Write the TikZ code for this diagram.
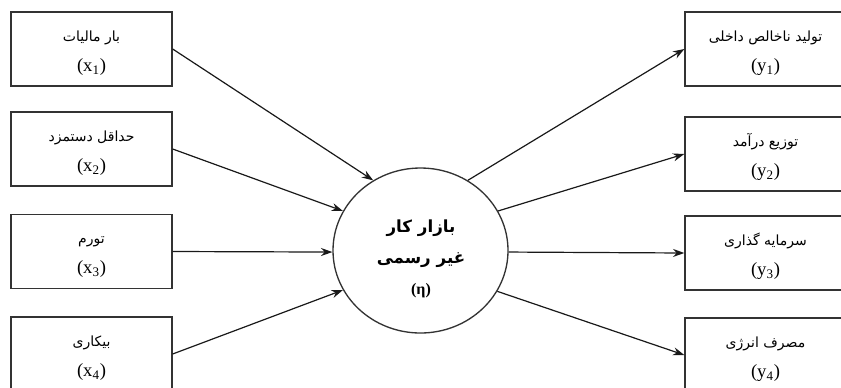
\documentclass[tikz,border=0pt]{standalone}
\usepackage{fontspec}
\setmainfont{Liberation Serif}
\newfontfamily\fa[Script=Arabic]{DejaVu Sans}
\TeXXeTstate=1
\usetikzlibrary{shapes.geometric,arrows.meta}
\newcommand{\fat}[1]{\rule{0pt}{14pt}{\fa\fontsize{10.5}{12}\selectfont\beginR #1\endR}}
\newcommand{\fatb}[1]{{\fa\bfseries\fontsize{12.5}{12}\selectfont\beginR #1\endR}}
\newcommand{\lab}[2]{{\fontsize{14}{14}\selectfont(#1\textsubscript{#2})}}
\begin{document}
\begin{tikzpicture}[x=0.75pt,y=-0.75pt,
  box/.style={draw=black!80, line width=1pt, minimum width=120.75pt, minimum height=55.5pt,
    inner sep=0pt, align=center, font=\fontsize{12}{22.5}\selectfont},
  conn/.style={draw=black!90, line width=0.9pt, -{Stealth[length=8.5pt,width=6pt]}}]
\clip (0,0) rectangle (841,387);
\useasboundingbox (0,0) rectangle (841,387);
\fill[white] (0,0) rectangle (841,387);

\node[box] (x1) at (91.5,49)   {\fat{بار مالیات}\\\lab{x}{1}};
\node[box] (x2) at (91.5,149)  {\fat{حداقل دستمزد}\\\lab{x}{2}};
\node[box] (x3) at (91.5,251.5){\fat{تورم}\\\lab{x}{3}};
\node[box] (x4) at (91.5,354)  {\fat{بیکاری}\\\lab{x}{4}};

\node[box] (y1) at (765.5,49)  {\fat{تولید ناخالص داخلی}\\\lab{y}{1}};
\node[box] (y2) at (765.5,154) {\fat{توزیع درآمد}\\\lab{y}{2}};
\node[box] (y3) at (765.5,253) {\fat{سرمایه گذاری}\\\lab{y}{3}};
\node[box] (y4) at (765.5,355) {\fat{مصرف انرژی}\\\lab{y}{4}};

\node[ellipse, draw=black!80, line width=1pt, minimum width=131.25pt, minimum height=123.75pt, inner sep=0pt]
  (eta) at (420.5,250.5) {};
\node[align=center, font=\fontsize{12}{23.5}\selectfont] (etat) at (421,259)
  {\fatb{بازار کار}\\\fatb{غیر رسمی}\\\textbf{(η)}};

\draw[conn] (x1.east) -- (eta.124);
\draw[conn] (x2.east) -- (eta.153);
\draw[conn] (x3.east) -- (eta.181);
\draw[conn] (x4.east) -- (eta.207);

\draw[conn] (eta.56) -- (y1.west);
\draw[conn] (eta.27) -- (y2.west);
\draw[conn] (eta.-1) -- (y3.west);
\draw[conn] (eta.-28) -- (y4.west);
\end{tikzpicture}
\end{document}
